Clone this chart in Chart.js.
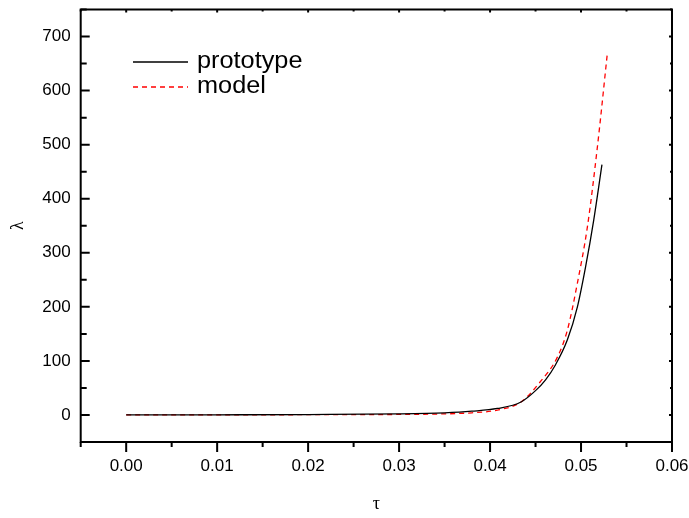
<!DOCTYPE html>
<html>
<head>
<meta charset="utf-8">
<script src="https://cdn.jsdelivr.net/npm/chart.js@4/dist/chart.umd.min.js"></script>
<style>
html,body{margin:0;padding:0;background:#fff;}
#wrap{width:689px;height:518px;position:relative;}
</style>
</head>
<body>
<div id="wrap"><canvas id="c" width="689" height="518"></canvas></div>
<script>
// Data
const prototypeTau = [0, 0.01, 0.02, 0.03, 0.035, 0.038, 0.0408, 0.0434, 0.045, 0.0461, 0.0472, 0.0485, 0.0496, 0.0505, 0.0514, 0.0523];
const prototypeLambda = [0, 0.3, 0.8, 2, 4, 7, 12, 24, 45, 65, 93, 139, 200, 274, 361, 463];
const modelTau = [0, 0.01, 0.02, 0.03, 0.035, 0.038, 0.0408, 0.0434, 0.0455, 0.0474, 0.0485, 0.0496, 0.0507, 0.0518, 0.0529];
const modelLambda = [0, 0.2, 0.5, 1, 2, 4, 9, 24, 61, 107, 157, 244, 348, 496, 670];
const xTickLabels = [0, 0.01, 0.02, 0.03, 0.04, 0.05, 0.06];
const xMinorTicks = [-0.005, 0.005, 0.015, 0.025, 0.035, 0.045, 0.055];
const yTickLabels = [0, 100, 200, 300, 400, 500, 600, 700];
const yMinorTicks = [-50, 50, 150, 250, 350, 450, 550, 650, 750];
const seriesNames = ['prototype', 'model'];
const xTitle = 'τ';
const yTitle = 'λ';

const toPts = (xs, ys) => xs.map((v, i) => ({x: v, y: ys[i]}));

const framePlugin = {
  id: 'frame',
  afterDraw(chart) {
    const {ctx, chartArea: a, scales: {x, y}} = chart;
    ctx.save();
    ctx.strokeStyle = '#000';
    ctx.lineWidth = 2;
    ctx.strokeRect(a.left, a.top, a.right - a.left, a.bottom - a.top);
    ctx.beginPath();
    xTickLabels.forEach(v => {
      const px = x.getPixelForValue(v);
      ctx.moveTo(px, a.bottom); ctx.lineTo(px, a.bottom + 10);
      ctx.moveTo(px, a.top); ctx.lineTo(px, a.top + 3);
    });
    xMinorTicks.forEach(v => {
      const px = x.getPixelForValue(v);
      ctx.moveTo(px, a.bottom); ctx.lineTo(px, a.bottom + 5);
      ctx.moveTo(px, a.top); ctx.lineTo(px, a.top + 2);
    });
    yTickLabels.forEach(v => {
      const py = y.getPixelForValue(v);
      ctx.moveTo(a.left, py); ctx.lineTo(a.left + 9, py);
      ctx.moveTo(a.right, py); ctx.lineTo(a.right - 3, py);
    });
    yMinorTicks.forEach(v => {
      const py = y.getPixelForValue(v);
      ctx.moveTo(a.left, py); ctx.lineTo(a.left + 6, py);
      ctx.moveTo(a.right, py); ctx.lineTo(a.right - 2, py);
    });
    ctx.stroke();
    // legend
    const lx = 133, ly = 62, gap = 25;
    chart.data.datasets.forEach((ds, i) => {
      const yy = ly + i * gap;
      ctx.beginPath();
      ctx.strokeStyle = ds.borderColor;
      ctx.lineWidth = ds.borderWidth;
      ctx.setLineDash(ds.borderDash || []);
      ctx.moveTo(lx, yy); ctx.lineTo(lx + 55, yy);
      ctx.stroke();
      ctx.setLineDash([]);
      ctx.save();
      ctx.fillStyle = '#000';
      ctx.font = '23px "Liberation Sans", Arial, sans-serif';
      ctx.textBaseline = 'middle';
      ctx.translate(lx + 64, yy);
      ctx.scale(1.1, 1);
      ctx.fillText(ds.label, 0, 0);
      ctx.restore();
    });
    ctx.restore();
  }
};

new Chart(document.getElementById('c'), {
  type: 'scatter',
  data: {
    datasets: [
      {label: seriesNames[0], data: toPts(prototypeTau, prototypeLambda), showLine: true, borderColor: '#000000', borderWidth: 1.3, pointRadius: 0, cubicInterpolationMode: 'monotone'},
      {label: seriesNames[1], data: toPts(modelTau, modelLambda), showLine: true, borderColor: '#ff0000', borderWidth: 1.3, borderDash: [5, 4], pointRadius: 0, cubicInterpolationMode: 'monotone'}
    ]
  },
  options: {
    responsive: false,
    animation: false,
    devicePixelRatio: 1,
    layout: {padding: {left: 0, top: 9.5, right: 17, bottom: 0}},
    plugins: {legend: {display: false}, tooltip: {enabled: false}},
    scales: {
      x: {
        type: 'linear', min: -0.005, max: 0.06,
        grid: {display: false, drawTicks: false},
        border: {display: false},
        afterBuildTicks: s => { s.ticks = xTickLabels.map(v => ({value: v})); },
        afterFit: s => { s.height = 76; s.paddingLeft = 0; s.paddingRight = 0; },
        ticks: {color: '#000', padding: 14, maxRotation: 0, autoSkip: false, font: {family: '"Liberation Sans", Arial, sans-serif', size: 17}, callback: v => Number(v).toFixed(2)},
        title: {display: true, text: xTitle, color: '#000', font: {family: '"Liberation Serif", serif', size: 18}, padding: {top: 0, bottom: 3}}
      },
      y: {
        type: 'linear', min: -50, max: 750,
        grid: {display: false, drawTicks: false},
        border: {display: false},
        afterBuildTicks: s => { s.ticks = yTickLabels.map(v => ({value: v})); },
        afterFit: s => { s.width = 80.7; s.paddingTop = 0; s.paddingBottom = 0; },
        ticks: {color: '#000', padding: 10, autoSkip: false, font: {family: '"Liberation Sans", Arial, sans-serif', size: 17}},
        title: {display: true, text: yTitle, color: '#000', font: {family: '"Liberation Serif", serif', size: 18}, padding: {top: 7, bottom: 0}}
      }
    }
  },
  plugins: [framePlugin]
});
</script>
</body>
</html>
